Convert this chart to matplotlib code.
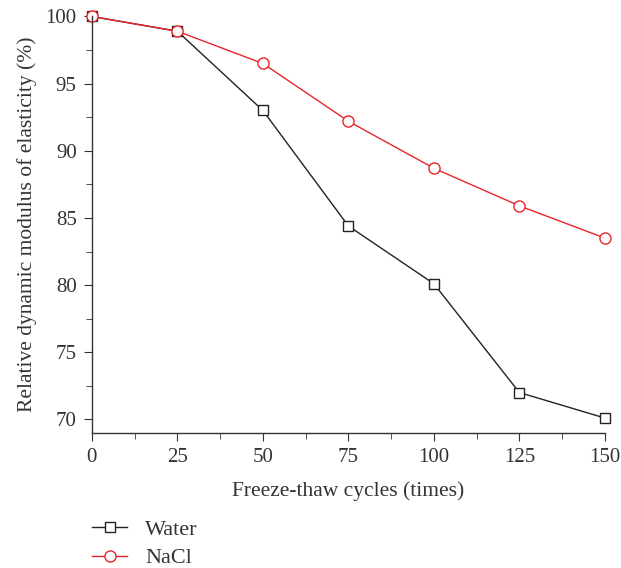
import matplotlib
matplotlib.use("Agg")
import matplotlib.pyplot as plt
from matplotlib.ticker import MultipleLocator

plt.rcParams['font.family'] = ['Liberation Serif', 'DejaVu Serif']

# Data
cycles = [0, 25, 50, 75, 100, 125, 150]
water = [100, 98.9, 93.0, 84.4, 80.1, 72.0, 70.1]
nacl = [100, 98.9, 96.5, 92.2, 88.7, 85.9, 83.5]

fig = plt.figure(figsize=(6.21, 5.68), dpi=100)
ax = fig.add_axes([0.148, 0.238, 0.826, 0.733])

ax.plot(cycles, water, color='#222222', lw=1, marker='s', ms=7,
        mfc='white', mec='#222222', mew=1, label='Water', clip_on=False)
ax.plot(cycles, nacl, color='#e8252a', lw=1, marker='o', ms=8,
        mfc='white', mec='#e8252a', mew=1, label='NaCl', clip_on=False)

ax.set_xlim(0, 150)
ax.set_ylim(69, 100)
ax.xaxis.set_major_locator(MultipleLocator(25))
ax.xaxis.set_minor_locator(MultipleLocator(12.5))
ax.yaxis.set_major_locator(MultipleLocator(5))
ax.yaxis.set_minor_locator(MultipleLocator(2.5))

for s in ['top', 'right']:
    ax.spines[s].set_visible(False)
for s in ['left', 'bottom']:
    ax.spines[s].set_color('#333333')
    ax.spines[s].set_linewidth(1)

ax.tick_params(which='major', direction='out', length=6, color='#333333',
               labelsize=15, labelcolor='#333333', pad=5)
ax.tick_params(which='minor', direction='out', length=4, color='#333333')

ax.set_xlabel('Freeze-thaw cycles (times)', fontsize=15.5, color='#333333', labelpad=10)
ax.set_ylabel('Relative dynamic modulus of elasticity (%)', fontsize=15.5,
              color='#333333', labelpad=6)

ax.legend(loc='upper left', bbox_to_anchor=(0.130, 0.105), bbox_transform=fig.transFigure,
          frameon=False, fontsize=16, handlelength=1.6, labelspacing=0.35,
          handletextpad=0.8, labelcolor='#333333', borderpad=0)

fig.savefig('out.png', dpi=100)
